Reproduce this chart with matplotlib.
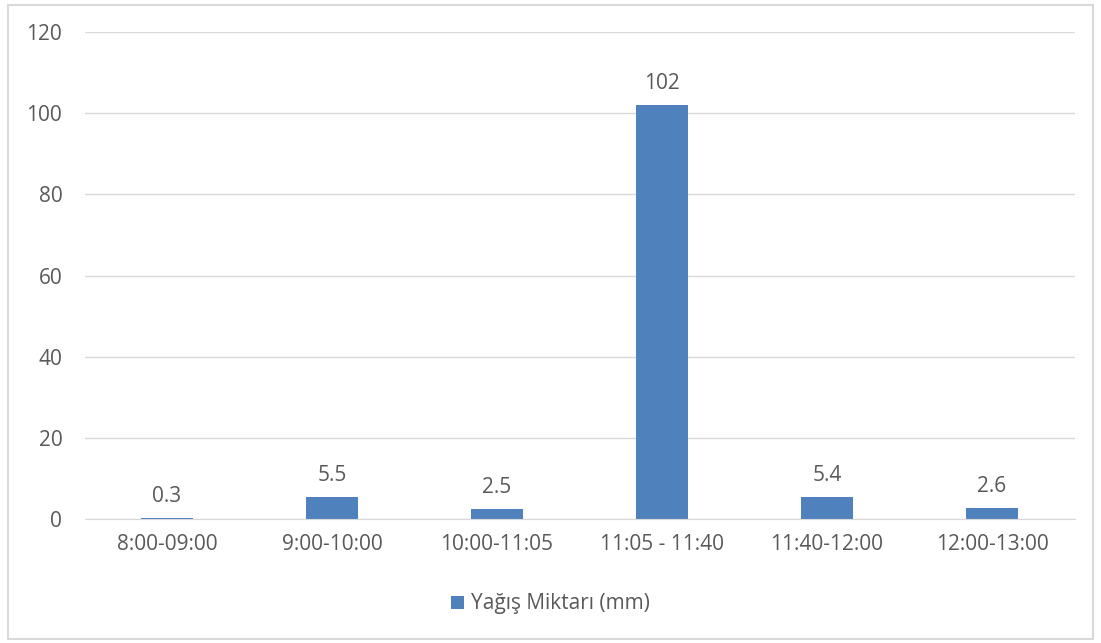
import matplotlib.pyplot as plt
from matplotlib.patches import Rectangle

# Yağış verisi: saat aralıkları ve miktarlar (mm)
periods = ['8:00-09:00', '9:00-10:00', '10:00-11:05', '11:05 - 11:40', '11:40-12:00', '12:00-13:00']
rain_mm = [0.3, 5.5, 2.5, 102, 5.4, 2.6]
value_labels = ['0.3', '5.5', '2.5', '102', '5.4', '2.6']
yticks = [0, 20, 40, 60, 80, 100, 120]

plt.rcParams['font.family'] = ['Open Sans', 'DejaVu Sans']
text_color = '#595959'
bar_color = '#4F81BD'
grid_color = '#D9D9D9'
fs = 15

fig = plt.figure(figsize=(11.01, 6.43), dpi=100)
ax = fig.add_axes([84.5 / 1101, 1 - 519 / 643, 990 / 1101, 487 / 643])

x = range(len(periods))
bars = ax.bar(x, rain_mm, width=0.31, color=bar_color, zorder=3, label='Yağış Miktarı (mm)')

for b, lbl in zip(bars, value_labels):
    ax.annotate(lbl, (b.get_x() + b.get_width() / 2, b.get_height()),
                xytext=(0, 8), textcoords='offset points', ha='center', va='bottom',
                fontsize=fs, color=text_color)

ax.set_xlim(-0.5, len(periods) - 0.5)
ax.set_ylim(0, 120)
ax.set_yticks(yticks)
ax.set_xticks(list(x))
ax.set_xticklabels(periods)
ax.tick_params(axis='both', length=0, labelsize=fs, labelcolor=text_color)
ax.tick_params(axis='x', pad=11)
ax.tick_params(axis='y', pad=16)
ax.grid(axis='y', color=grid_color, linewidth=1, zorder=0)
for side in ['top', 'right', 'left']:
    ax.spines[side].set_visible(False)
ax.spines['bottom'].set_color(grid_color)
ax.spines['bottom'].set_zorder(4)

fig.legend(loc='center', bbox_to_anchor=(0.5, 1 - 604 / 643), frameon=False,
           fontsize=fs, labelcolor=text_color, handlelength=0.6, handleheight=0.6,
           handletextpad=0.35)

# çerçeve
fig.patches.append(Rectangle((8 / 1101, 4 / 643), 1085 / 1101, 634 / 643,
                             transform=fig.transFigure, fill=False,
                             edgecolor=grid_color, linewidth=1.5))

fig.savefig('out.png', dpi=100)
